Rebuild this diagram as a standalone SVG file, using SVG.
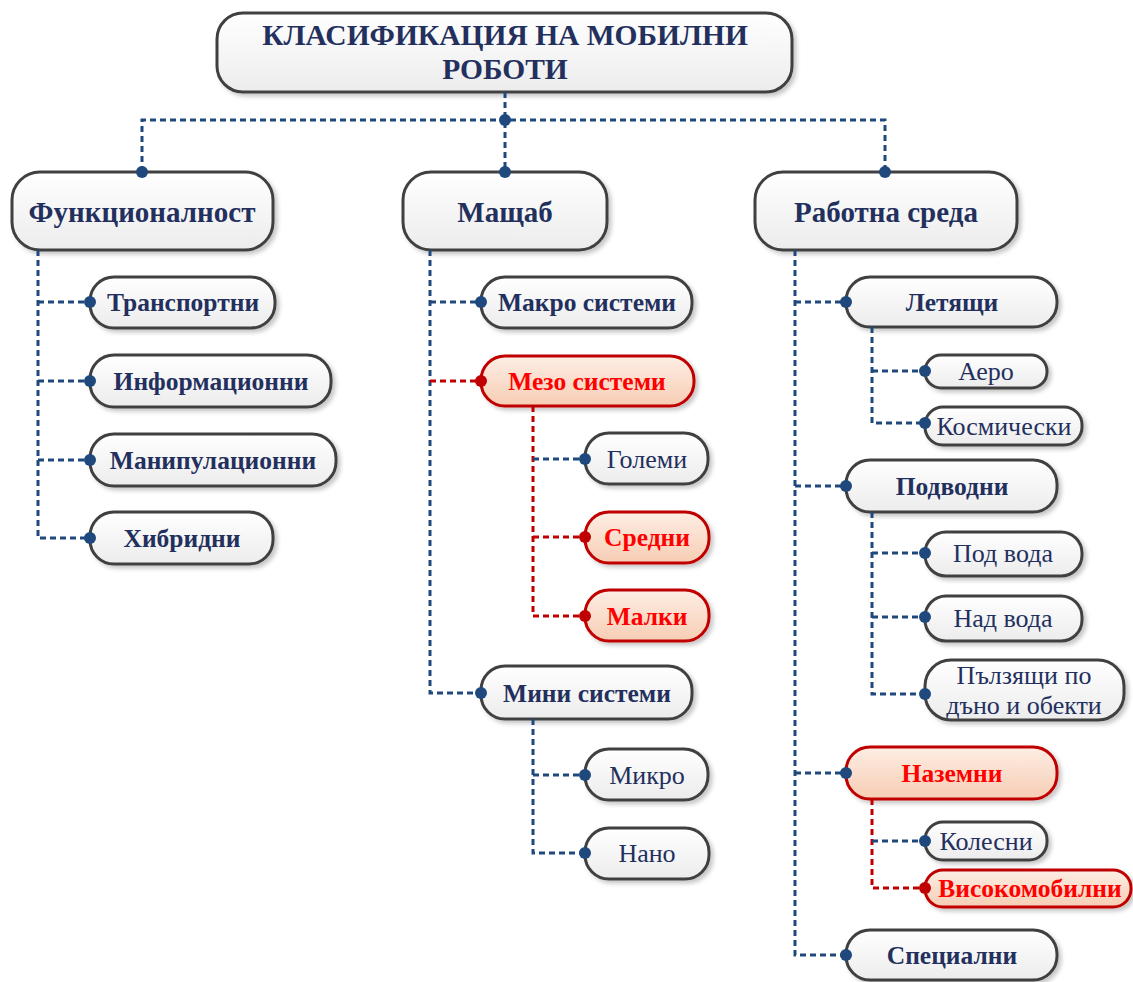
<svg xmlns="http://www.w3.org/2000/svg" width="1133" height="982" viewBox="0 0 1133 982">
  <defs>
    <linearGradient id="gWhite" x1="0" y1="0" x2="0" y2="1">
      <stop offset="0" stop-color="#ffffff"/>
      <stop offset="1" stop-color="#ececec"/>
    </linearGradient>
    <linearGradient id="gRed" x1="0" y1="0" x2="0" y2="1">
      <stop offset="0" stop-color="#fdeee4"/>
      <stop offset="1" stop-color="#f7cdb4"/>
    </linearGradient>
    <filter id="shadow" x="-10%" y="-20%" width="125%" height="150%">
      <feDropShadow dx="3" dy="3" stdDeviation="2" flood-color="#000" flood-opacity="0.22"/>
    </filter>
  </defs>
  <style>
    .box { fill: url(#gWhite); stroke: #404040; stroke-width: 3; filter: url(#shadow); }
    .rbox { fill: url(#gRed); stroke: #c00000; stroke-width: 3; filter: url(#shadow); }
    .t { font-family: "Liberation Serif", "Times New Roman", serif; fill: #23305e; text-anchor: middle; }
    .b { font-weight: bold; }
    .red { fill: #ff0000; }
    .title { font-size: 29.5px; }
    .l1 { font-size: 29px; }
    .l2 { font-size: 25.5px; }
    .l3 { font-size: 26px; }
    .ln { fill: none; stroke: #1f497d; stroke-width: 3; stroke-dasharray: 6 4; }
    .lr { fill: none; stroke: #c00000; stroke-width: 3; stroke-dasharray: 6 4; }
    .d { fill: #1f497d; }
    .dr { fill: #c00000; }
  </style>

  <!-- root -->
  <g id="root">
    <rect class="box" x="217" y="13" width="575" height="79" rx="26"/>
    <text class="t b title" x="505" y="45">КЛАСИФИКАЦИЯ НА МОБИЛНИ</text>
    <text class="t b title" x="505" y="79">РОБОТИ</text>
  </g>

  <!-- first level -->
  <g id="n-func">
    <rect class="box" x="12" y="172" width="261" height="78" rx="28"/>
    <text class="t b l1" x="142" y="222">Функционалност</text>
  </g>
  <g id="n-scale">
    <rect class="box" x="403" y="172" width="204" height="78" rx="28"/>
    <text class="t b l1" x="505" y="222">Мащаб</text>
  </g>
  <g id="n-env">
    <rect class="box" x="755" y="172" width="262" height="78" rx="28"/>
    <text class="t b l1" x="886" y="222">Работна среда</text>
  </g>

  <!-- Функционалност children -->
  <g id="n-transport">
    <rect class="box" x="90" y="277" width="185" height="51" rx="24"/>
    <text class="t b l2" x="183" y="311">Транспортни</text>
  </g>
  <g id="n-info">
    <rect class="box" x="90" y="355" width="241" height="52" rx="24"/>
    <text class="t b l2" x="211" y="390">Информационни</text>
  </g>
  <g id="n-manip">
    <rect class="box" x="90" y="434" width="246" height="52" rx="24"/>
    <text class="t b l2" x="213" y="469">Манипулационни</text>
  </g>
  <g id="n-hybrid">
    <rect class="box" x="90" y="512" width="183" height="52" rx="24"/>
    <text class="t b l2" x="182" y="547">Хибридни</text>
  </g>

  <!-- Мащаб children -->
  <g id="n-macro">
    <rect class="box" x="481" y="277" width="211" height="51" rx="24"/>
    <text class="t b l2" x="587" y="311">Макро системи</text>
  </g>
  <g id="n-meso">
    <rect class="rbox" x="481" y="356" width="213" height="50" rx="24"/>
    <text class="t b l2 red" x="587" y="390">Мезо системи</text>
  </g>
  <g id="n-large">
    <rect class="box" x="585" y="433" width="123" height="51" rx="24"/>
    <text class="t l3" x="647" y="468">Големи</text>
  </g>
  <g id="n-medium">
    <rect class="rbox" x="585" y="512" width="124" height="51" rx="24"/>
    <text class="t b l2 red" x="647" y="546">Средни</text>
  </g>
  <g id="n-small">
    <rect class="rbox" x="585" y="590" width="124" height="51" rx="24"/>
    <text class="t b l2 red" x="647" y="625">Малки</text>
  </g>
  <g id="n-mini">
    <rect class="box" x="481" y="666" width="211" height="53" rx="24"/>
    <text class="t b l2" x="587" y="702">Мини системи</text>
  </g>
  <g id="n-micro">
    <rect class="box" x="585" y="749" width="123" height="51" rx="24"/>
    <text class="t l3" x="647" y="784">Микро</text>
  </g>
  <g id="n-nano">
    <rect class="box" x="585" y="828" width="124" height="51" rx="24"/>
    <text class="t l3" x="647" y="862">Нано</text>
  </g>

  <!-- Работна среда children -->
  <g id="n-flying">
    <rect class="box" x="846" y="277" width="211" height="50" rx="24"/>
    <text class="t b l2" x="952" y="311">Летящи</text>
  </g>
  <g id="n-aero">
    <rect class="box" x="925" y="355" width="122" height="33" rx="16"/>
    <text class="t l3" x="986" y="380">Аеро</text>
  </g>
  <g id="n-space">
    <rect class="box" x="925" y="407" width="157" height="38" rx="18"/>
    <text class="t l3" x="1004" y="435">Космически</text>
  </g>
  <g id="n-underwater">
    <rect class="box" x="846" y="460" width="211" height="52" rx="24"/>
    <text class="t b l2" x="952" y="495">Подводни</text>
  </g>
  <g id="n-below">
    <rect class="box" x="925" y="532" width="157" height="44" rx="21"/>
    <text class="t l3" x="1003" y="562">Под вода</text>
  </g>
  <g id="n-above">
    <rect class="box" x="925" y="596" width="157" height="45" rx="21"/>
    <text class="t l3" x="1003" y="627">Над вода</text>
  </g>
  <g id="n-crawl">
    <rect class="box" x="925" y="660" width="199" height="60" rx="26"/>
    <text class="t l3" x="1024" y="684">Пълзящи по</text>
    <text class="t l3" x="1024" y="714">дъно и обекти</text>
  </g>
  <g id="n-ground">
    <rect class="rbox" x="846" y="747" width="211" height="52" rx="24"/>
    <text class="t b l2 red" x="952" y="782">Наземни</text>
  </g>
  <g id="n-wheeled">
    <rect class="box" x="925" y="822" width="122" height="38" rx="18"/>
    <text class="t l3" x="986" y="850">Колесни</text>
  </g>
  <g id="n-highmob">
    <rect class="rbox" x="925" y="870" width="206" height="37" rx="18"/>
    <text class="t b l2 red" x="1030" y="897">Високомобилни</text>
  </g>
  <g id="n-special">
    <rect class="box" x="846" y="930" width="211" height="50" rx="24"/>
    <text class="t b l2" x="952" y="964">Специални</text>
  </g>

  <!-- connectors, drawn over the box edges so the end dots stay visible -->
  <g id="connectors">
    <path class="ln" d="M505 92 V172 M142 172 V120 H885 V172"/>
    <!-- Функционалност -->
    <path class="ln" d="M38 250 V538 H90 M38 302 H90 M38 381 H90 M38 460 H90"/>
    <!-- Мащаб -->
    <path class="ln" d="M430 250 V693 H481 M430 302 H481"/>
    <path class="lr" d="M430 381 H481"/>
    <path class="lr" d="M533 406 V616 H585 M533 537 H585"/>
    <path class="ln" d="M533 459 H585"/>
    <path class="ln" d="M533 719 V853 H585 M533 775 H585"/>
    <!-- Работна среда -->
    <path class="ln" d="M795 250 V955 H846 M795 302 H846 M795 486 H846 M795 773 H846"/>
    <path class="ln" d="M872 327 V423 H925 M872 371 H925"/>
    <path class="ln" d="M872 512 V694 H925 M872 553 H925 M872 617 H925"/>
    <path class="lr" d="M872 799 V888 H925"/>
    <path class="ln" d="M872 841 H925"/>
    <!-- dots -->
    <circle class="d" cx="505" cy="120" r="6"/>
    <circle class="d" cx="142" cy="172" r="6"/>
    <circle class="d" cx="505" cy="172" r="6"/>
    <circle class="d" cx="885" cy="172" r="6"/>
    <circle class="d" cx="90" cy="302" r="6"/>
    <circle class="d" cx="90" cy="381" r="6"/>
    <circle class="d" cx="90" cy="460" r="6"/>
    <circle class="d" cx="90" cy="538" r="6"/>
    <circle class="d" cx="481" cy="302" r="6"/>
    <circle class="dr" cx="481" cy="381" r="6"/>
    <circle class="d" cx="585" cy="459" r="6"/>
    <circle class="dr" cx="585" cy="537" r="6"/>
    <circle class="dr" cx="585" cy="616" r="6"/>
    <circle class="d" cx="481" cy="693" r="6"/>
    <circle class="d" cx="585" cy="775" r="6"/>
    <circle class="d" cx="585" cy="853" r="6"/>
    <circle class="d" cx="846" cy="302" r="6"/>
    <circle class="d" cx="925" cy="371" r="6"/>
    <circle class="d" cx="925" cy="423" r="6"/>
    <circle class="d" cx="846" cy="486" r="6"/>
    <circle class="d" cx="925" cy="553" r="6"/>
    <circle class="d" cx="925" cy="617" r="6"/>
    <circle class="d" cx="925" cy="694" r="6"/>
    <circle class="d" cx="846" cy="773" r="6"/>
    <circle class="d" cx="925" cy="841" r="6"/>
    <circle class="dr" cx="925" cy="888" r="6"/>
    <circle class="d" cx="846" cy="955" r="6"/>
  </g>
</svg>
